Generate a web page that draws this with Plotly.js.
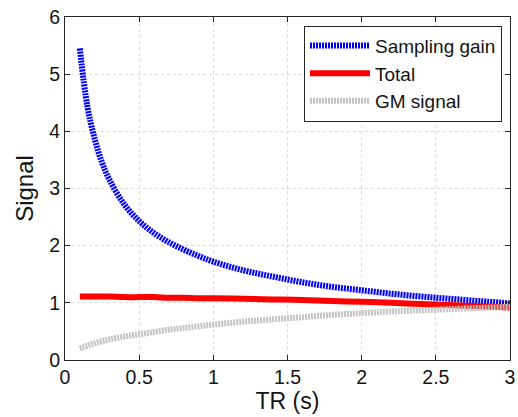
<!DOCTYPE html>
<html>
<head>
<meta charset="utf-8">
<script src="https://cdn.plot.ly/plotly-3.0.1.min.js"></script>
<style>html,body{margin:0;padding:0;background:#fff;}#chart{width:518px;height:417px;}</style>
</head>
<body>
<div id="chart"></div>
<script>
// Values
var tr = [0.1, 0.15, 0.2, 0.25, 0.3, 0.4, 0.5, 0.6, 0.7, 0.8, 0.9, 1.0, 1.2, 1.4, 1.6, 1.8, 2.0, 2.2, 2.4, 2.6, 2.8, 3.0];
var samplingGain = [5.45, 4.45, 3.87, 3.45, 3.15, 2.72, 2.43, 2.22, 2.06, 1.93, 1.82, 1.72, 1.57, 1.46, 1.36, 1.28, 1.22, 1.16, 1.11, 1.07, 1.03, 0.99];
var total = [1.11, 1.11, 1.11, 1.11, 1.11, 1.10, 1.10, 1.10, 1.09, 1.09, 1.08, 1.08, 1.07, 1.06, 1.05, 1.03, 1.02, 1.00, 0.98, 0.96, 0.94, 0.92];
var gmSignal = [0.20, 0.25, 0.29, 0.33, 0.36, 0.41, 0.45, 0.49, 0.53, 0.56, 0.59, 0.62, 0.67, 0.71, 0.75, 0.79, 0.82, 0.85, 0.87, 0.89, 0.91, 0.93];
var names = ["Sampling gain", "Total", "GM signal"];
var xTicks = [0, 0.5, 1, 1.5, 2, 2.5, 3];
var xTickText = ["0", "0.5", "1", "1.5", "2", "2.5", "3"];
var yTicks = [0, 1, 2, 3, 4, 5, 6];

var font = "Liberation Sans, Arial, sans-serif";
var ink = "#141414";
var traces = [
  {x: tr, y: samplingGain, name: names[0], mode: "lines", line: {color: "#0000ff", width: 6, dash: "2px,1px", shape: "spline"}},
  {x: tr, y: total, name: names[1], mode: "lines", line: {color: "#ff0000", width: 6, shape: "spline"}},
  {x: tr, y: gmSignal, name: names[2], mode: "lines", line: {color: "#c4c4c4", width: 6, dash: "2px,1px", shape: "spline"}}
];
var axisCommon = {
  showline: true, linecolor: "#262626", linewidth: 1, mirror: "ticks",
  ticks: "inside", ticklen: 5, tickcolor: "#262626",
  showgrid: true, gridcolor: "#dcdcdc", griddash: "dot", gridwidth: 1,
  zeroline: false, tickfont: {family: font, size: 19.5, color: ink}
};
var layout = {
  width: 518, height: 417,
  margin: {l: 65, r: 8, t: 17, b: 57},
  paper_bgcolor: "#fff", plot_bgcolor: "#fff",
  showlegend: true,
  legend: {x: 0.982, y: 0.975, xanchor: "right", yanchor: "top", bgcolor: "#fff", bordercolor: "#262626", borderwidth: 1,
    font: {family: font, size: 19, color: ink}, itemwidth: 60, tracegroupgap: 0},
  xaxis: Object.assign({}, axisCommon, {range: [0, 3], tickvals: xTicks, ticktext: xTickText,
    title: {text: "TR (s)", font: {family: font, size: 23, color: ink}, standoff: 5}}),
  yaxis: Object.assign({}, axisCommon, {range: [0, 6], tickvals: yTicks,
    title: {text: "Signal", font: {family: font, size: 24, color: ink}, standoff: 8}})
};
Plotly.newPlot("chart", traces, layout, {displayModeBar: false, staticPlot: true});
</script>
</body>
</html>
